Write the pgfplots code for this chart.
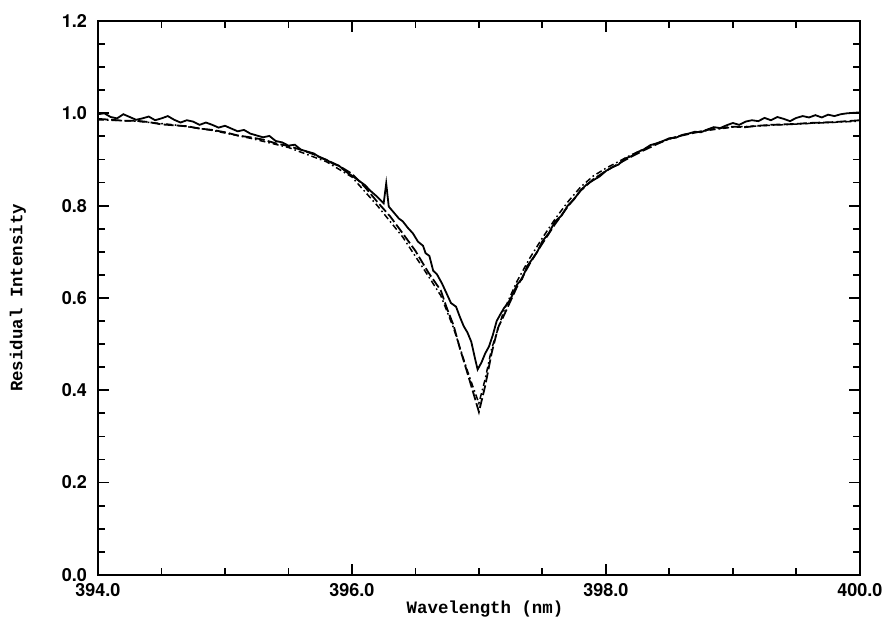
\documentclass[border=0pt]{standalone}
\usepackage{fontspec}
\setmainfont{TeX Gyre Heros}
\newfontfamily\labfont{Liberation Mono}
\usepackage{pgfplots}
\pgfplotsset{compat=1.18}
\begin{document}
\begin{tikzpicture}
\begin{axis}[
  name=ax, at={(0,0)}, anchor=south west,
  scale only axis, width=381pt, height=277pt,
  xmin=394, xmax=400, ymin=0, ymax=1.2,
  xtick={394,396,398,400}, xticklabels={394.0,396.0,398.0,400.0},
  ytick={0,0.2,0.4,0.6,0.8,1.0,1.2}, yticklabels={0.0,0.2,0.4,0.6,0.8,1.0,1.2},
  minor x tick num=3, minor y tick num=3,
  tick align=inside,
  major tick length=5.5pt, minor tick length=3.5pt,
  every tick/.style={black, line width=0.9pt},
  axis line style={line width=1pt},
  ticklabel style={font=\fontsize{9}{10}\selectfont\bfseries},
  xticklabel style={anchor=center, yshift=-7.5pt},
  yticklabel style={xshift=-2pt},
  every axis x label/.style={at={(axis description cs:0.508,0)}, yshift=-17pt, anchor=center},
  every axis y label/.style={at={(axis description cs:-0.105,0.5)}, rotate=90, anchor=center},
  label style={font=\labfont\fontsize{8.7}{10}\selectfont\bfseries},
  xlabel={Wavelength (nm)}, ylabel={Residual Intensity},
]
% observed (solid)
\addplot[black, line width=0.9pt] coordinates {
(394.00,0.998)(394.05,1.000)(394.10,0.992)(394.15,0.989)(394.20,0.998)(394.25,0.992)
(394.30,0.986)(394.35,0.989)(394.40,0.993)(394.45,0.985)(394.50,0.989)(394.55,0.994)
(394.60,0.986)(394.65,0.980)(394.70,0.985)(394.75,0.982)(394.80,0.975)(394.85,0.980)
(394.90,0.975)(394.95,0.969)(395.00,0.973)(395.05,0.967)(395.10,0.961)(395.15,0.964)
(395.20,0.956)(395.25,0.952)(395.30,0.948)(395.35,0.951)(395.40,0.940)(395.45,0.937)
(395.50,0.930)(395.55,0.932)(395.60,0.921)(395.65,0.917)(395.70,0.913)(395.75,0.904)
(395.80,0.899)(395.85,0.891)(395.90,0.886)(395.95,0.874)(396.00,0.865)(396.05,0.855)
(396.10,0.845)(396.15,0.831)(396.20,0.819)(396.25,0.805)(396.27,0.848)(396.29,0.798)
(396.33,0.785)(396.37,0.772)(396.40,0.766)(396.44,0.752)(396.48,0.740)(396.52,0.722)
(396.56,0.713)(396.58,0.697)(396.61,0.691)(396.64,0.659)(396.67,0.651)(396.71,0.631)
(396.75,0.607)(396.78,0.589)(396.82,0.581)(396.85,0.559)(396.88,0.539)(396.91,0.525)
(396.94,0.505)(396.97,0.468)(396.99,0.445)(397.02,0.460)(397.05,0.480)(397.08,0.495)
(397.11,0.520)(397.14,0.550)(397.17,0.565)(397.20,0.579)(397.23,0.589)(397.26,0.604)
(397.30,0.629)(397.34,0.641)(397.38,0.669)(397.42,0.684)(397.46,0.700)(397.50,0.723)
(397.55,0.740)(397.60,0.766)(397.65,0.778)(397.70,0.800)(397.75,0.814)(397.80,0.833)
(397.85,0.846)(397.90,0.855)(397.95,0.863)(398.00,0.875)(398.05,0.883)(398.10,0.889)
(398.15,0.902)(398.20,0.907)(398.25,0.916)(398.30,0.922)(398.35,0.931)(398.40,0.935)
(398.45,0.940)(398.50,0.946)(398.55,0.947)(398.60,0.953)(398.65,0.956)(398.70,0.960)
(398.75,0.959)(398.80,0.965)(398.85,0.970)(398.90,0.968)(398.95,0.974)(399.00,0.979)
(399.05,0.975)(399.10,0.982)(399.15,0.985)(399.20,0.983)(399.25,0.990)(399.30,0.985)
(399.35,0.992)(399.40,0.988)(399.45,0.983)(399.50,0.990)(399.55,0.994)(399.60,0.991)
(399.65,0.996)(399.70,0.991)(399.75,0.997)(399.80,0.994)(399.85,0.998)(399.90,1.000)
(399.95,1.001)(400.00,1.002)
};
% model 1 (dashed)
\addplot[black, line width=0.9pt, dash pattern=on 5pt off 1.6pt] coordinates {
(394.0,0.988)(394.1,0.986)(394.2,0.984)(394.3,0.984)(394.4,0.981)(394.5,0.976)
(394.6,0.974)(394.7,0.972)(394.8,0.967)(394.9,0.964)(395.0,0.959)(395.1,0.952)
(395.2,0.948)(395.3,0.943)(395.4,0.935)(395.5,0.929)(395.6,0.921)(395.7,0.911)
(395.8,0.899)(395.9,0.886)(396.0,0.869)(396.1,0.841)(396.2,0.808)(396.3,0.777)
(396.4,0.740)(396.5,0.702)(396.6,0.656)(396.7,0.616)(396.75,0.576)(396.8,0.541)
(396.85,0.491)(396.9,0.446)(396.95,0.400)(397.0,0.353)(397.05,0.410)(397.1,0.480)
(397.15,0.535)(397.2,0.564)(397.3,0.624)(397.4,0.674)(397.5,0.718)(397.6,0.760)
(397.7,0.798)(397.8,0.832)(397.9,0.857)(398.0,0.875)(398.1,0.891)(398.2,0.906)
(398.3,0.920)(398.4,0.933)(398.5,0.945)(398.6,0.952)(398.7,0.958)(398.8,0.964)
(398.9,0.968)(399.0,0.971)(399.1,0.970)(399.2,0.973)(399.3,0.975)(399.4,0.976)
(399.5,0.977)(399.6,0.979)(399.7,0.980)(399.8,0.981)(399.9,0.983)(400.0,0.985)
};
% model 2 (dash-dotted)
\addplot[black, line width=0.75pt, dash pattern=on 3pt off 1.5pt on 0.8pt off 1.5pt] coordinates {
(394.0,0.986)(394.3,0.983)(394.6,0.975)(394.9,0.963)(395.2,0.946)(395.5,0.926)
(395.8,0.895)(396.0,0.862)(396.2,0.800)(396.4,0.732)(396.6,0.648)(396.7,0.605)
(396.8,0.535)(396.9,0.450)(396.95,0.410)(397.0,0.372)(397.05,0.425)(397.1,0.490)
(397.2,0.575)(397.3,0.636)(397.4,0.686)(397.5,0.730)(397.6,0.771)(397.7,0.808)
(397.8,0.840)(397.9,0.864)(398.0,0.881)(398.2,0.910)(398.4,0.935)(398.6,0.953)
(398.8,0.963)(399.0,0.970)(399.3,0.974)(399.6,0.978)(400.0,0.983)
};
\end{axis}
\path[use as bounding box] ([xshift=-49pt,yshift=-22pt]ax.south west) rectangle ([xshift=14.5pt,yshift=10.5pt]ax.north east);
\end{tikzpicture}
\end{document}
